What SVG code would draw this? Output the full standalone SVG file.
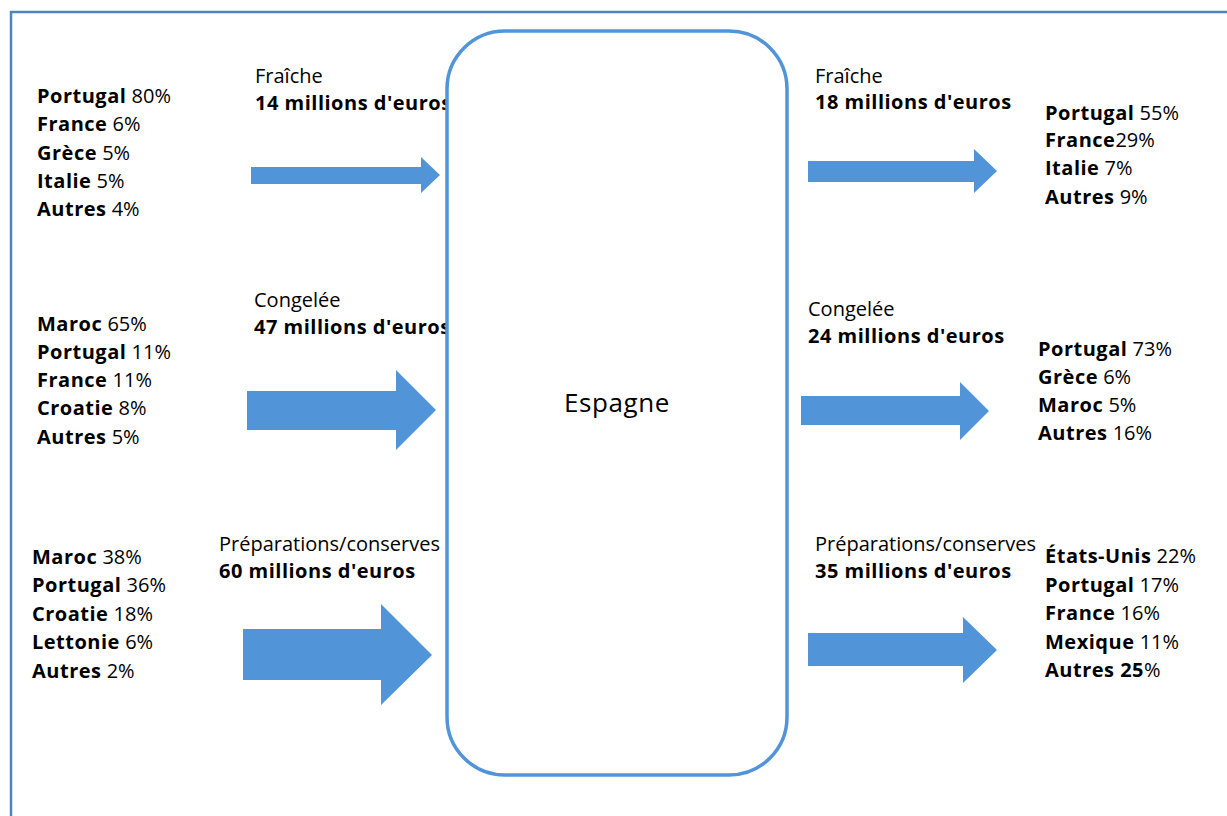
<svg xmlns="http://www.w3.org/2000/svg" width="1227" height="816" viewBox="0 0 1227 816">
<style>
text{font-family:"Open Sans","Noto Sans","DejaVu Sans",sans-serif;font-size:20px;fill:#000}
.b{font-weight:700;letter-spacing:0.5px}
.arrow{fill:#5194d8}
.frame{fill:none;stroke:#4f83c2;stroke-width:2.5}
.hub{fill:#fff;stroke:#5194d8;stroke-width:3.5}
</style>
<rect width="1227" height="816" fill="#fff"/>
<path class="frame" d="M11,816 V12 H1227"/>

<g id="connectors">
<path class="arrow" d="M251,167 H421 V157 L440,175 L421,193 V184 H251 Z"/>
<path class="arrow" d="M247,391 H396 V370 L436,410 L396,450 V430 H247 Z"/>
<path class="arrow" d="M243,629 H381 V604 L432,655 L381,705 V680 H243 Z"/>
<path class="arrow" d="M808,161 H974 V149 L997,171 L974,193 V182 H808 Z"/>
<path class="arrow" d="M801,396 H960 V382 L989,411 L960,440 V425 H801 Z"/>
<path class="arrow" d="M808,633 H963 V617 L997,650 L963,683 V666 H808 Z"/>
</g>

<g id="src-fraiche">
<text x="37" y="103"><tspan class="b">Portugal</tspan> 80%</text>
<text x="37" y="131"><tspan class="b">France</tspan> 6%</text>
<text x="37" y="160"><tspan class="b">Grèce</tspan> 5%</text>
<text x="37" y="188"><tspan class="b">Italie</tspan> 5%</text>
<text x="37" y="216"><tspan class="b">Autres</tspan> 4%</text>
</g>
<g id="lbl-in-fraiche">
<text x="255" y="83">Fraîche</text>
<text class="b" x="255" y="110">14 millions d'euros</text>
</g>

<g id="src-congelee">
<text x="37" y="331"><tspan class="b">Maroc</tspan> 65%</text>
<text x="37" y="359"><tspan class="b">Portugal</tspan> 11%</text>
<text x="37" y="387"><tspan class="b">France</tspan> 11%</text>
<text x="37" y="415"><tspan class="b">Croatie</tspan> 8%</text>
<text x="37" y="444"><tspan class="b">Autres</tspan> 5%</text>
</g>
<g id="lbl-in-congelee">
<text x="254" y="307">Congelée</text>
<text class="b" x="254" y="334">47 millions d'euros</text>
</g>

<g id="src-preparations">
<text x="32" y="564"><tspan class="b">Maroc</tspan> 38%</text>
<text x="32" y="592"><tspan class="b">Portugal</tspan> 36%</text>
<text x="32" y="621"><tspan class="b">Croatie</tspan> 18%</text>
<text x="32" y="649"><tspan class="b">Lettonie</tspan> 6%</text>
<text x="32" y="678"><tspan class="b">Autres</tspan> 2%</text>
</g>
<g id="lbl-in-preparations">
<text x="219" y="551">Préparations/conserves</text>
<text class="b" x="219" y="578">60 millions d'euros</text>
</g>

<g id="espagne">
<rect class="hub" x="447" y="31" width="340" height="744" rx="58" ry="58"/>
<text x="617" y="412" text-anchor="middle" style="font-size:26px;letter-spacing:0.6px">Espagne</text>
</g>

<g id="lbl-out-fraiche">
<text x="815" y="83">Fraîche</text>
<text class="b" x="815" y="109">18 millions d'euros</text>
</g>
<g id="dst-fraiche">
<text x="1045" y="120"><tspan class="b">Portugal</tspan> 55%</text>
<text x="1045" y="147"><tspan class="b">France</tspan>29%</text>
<text x="1045" y="175"><tspan class="b">Italie</tspan> 7%</text>
<text x="1045" y="204"><tspan class="b">Autres</tspan> 9%</text>
</g>

<g id="lbl-out-congelee">
<text x="808" y="316">Congelée</text>
<text class="b" x="808" y="343">24 millions d'euros</text>
</g>
<g id="dst-congelee">
<text x="1038" y="356"><tspan class="b">Portugal</tspan> 73%</text>
<text x="1038" y="384"><tspan class="b">Grèce</tspan> 6%</text>
<text x="1038" y="412"><tspan class="b">Maroc</tspan> 5%</text>
<text x="1038" y="440"><tspan class="b">Autres</tspan> 16%</text>
</g>

<g id="lbl-out-preparations">
<text x="815" y="551">Préparations/conserves</text>
<text class="b" x="815" y="578">35 millions d'euros</text>
</g>
<g id="dst-preparations">
<text x="1045" y="563"><tspan class="b">États-Unis</tspan> 22%</text>
<text x="1045" y="592"><tspan class="b">Portugal</tspan> 17%</text>
<text x="1045" y="620"><tspan class="b">France</tspan> 16%</text>
<text x="1045" y="649"><tspan class="b">Mexique</tspan> 11%</text>
<text x="1045" y="677"><tspan class="b">Autres 25</tspan>%</text>
</g>
</svg>
